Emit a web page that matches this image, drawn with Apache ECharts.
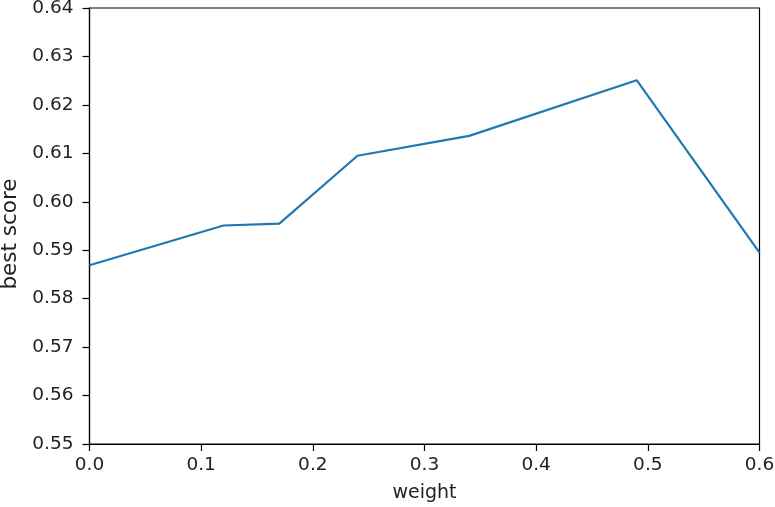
<!DOCTYPE html>
<html>
<head>
<meta charset="utf-8">
<script src="https://cdn.jsdelivr.net/npm/echarts@6/dist/echarts.min.js"></script>
<style>
html,body{margin:0;padding:0;background:#fff;}
#chart{width:775px;height:507px;}
</style>
</head>
<body>
<div id="chart"></div>
<script>
const weights = [0.0, 0.12, 0.17, 0.24, 0.34, 0.49, 0.6];
const bestScores = [0.5869, 0.5951, 0.5955, 0.6095, 0.6136, 0.6251, 0.5895];
const xTicks = { min: 0, max: 0.6, interval: 0.1 };
const yTicks = { min: 0.55, max: 0.64, interval: 0.01 };

const FONT = 'DejaVu Sans';
const FS = 18.5;
const chart = echarts.init(document.getElementById('chart'), null, { renderer: 'canvas' });
chart.setOption({
  animation: false,
  backgroundColor: '#ffffff',
  grid: {
    left: 89.5, right: 15.5, top: 8, bottom: 63,
    containLabel: false, outerBoundsMode: 'none',
    show: true, borderColor: '#000', borderWidth: 1.2, backgroundColor: 'transparent'
  },
  xAxis: {
    type: 'value',
    min: xTicks.min, max: xTicks.max, interval: xTicks.interval,
    name: 'weight', nameLocation: 'middle', nameGap: 40,
    nameTextStyle: { fontFamily: FONT, fontSize: 19, color: '#222' },
    axisLine: { show: true, onZero: false, lineStyle: { color: '#000', width: 1.2 } },
    axisTick: { show: true, inside: false, length: 7, lineStyle: { color: '#000', width: 1.2 } },
    axisLabel: { fontFamily: FONT, fontSize: FS, color: '#222', margin: 12,
      formatter: v => v.toFixed(1) },
    splitLine: { show: false }
  },
  yAxis: {
    type: 'value',
    min: yTicks.min, max: yTicks.max, interval: yTicks.interval,
    name: 'best score', nameLocation: 'middle', nameGap: 68,
    nameTextStyle: { fontFamily: FONT, fontSize: 21.5, color: '#222', padding: [0, 16, 0, 0] },
    axisLine: { show: true, onZero: false, lineStyle: { color: '#000', width: 1.2 } },
    axisTick: { show: true, inside: false, length: 7, lineStyle: { color: '#000', width: 1.2 } },
    axisLabel: { fontFamily: FONT, fontSize: FS, color: '#222', margin: 16,
      formatter: v => v.toFixed(2) },
    splitLine: { show: false }
  },
  series: [{
    type: 'line',
    data: weights.map((w, i) => [w, bestScores[i]]),
    showSymbol: false,
    symbol: 'none',
    lineStyle: { color: '#1f77b4', width: 2.2 },
    clip: true
  }]
});
</script>
</body>
</html>
